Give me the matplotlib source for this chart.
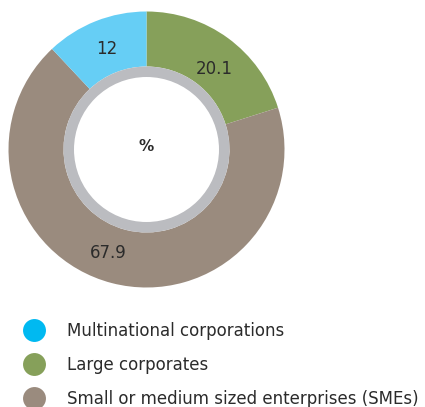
import matplotlib
matplotlib.use("Agg")
import matplotlib.pyplot as plt
from matplotlib.lines import Line2D
import numpy as np

plt.rcParams['font.family'] = ['DejaVu Sans']

categories = ["Multinational corporations", "Large corporates", "Small or medium sized enterprises (SMEs)"]
values = [12, 20.1, 67.9]
value_labels = ["12", "20.1", "67.9"]
slice_colors = ["#66CEF5", "#86A05A", "#9A8B7E"]
legend_colors = ["#00B9F1", "#86A05A", "#9A8B7E"]

W, H = 425, 407
fig = plt.figure(figsize=(W / 100, H / 100), dpi=100)
ax = fig.add_axes([0, 0, 1, 1])

cx, cy = 146.5, H - 149.5
R_out, R_in = 138, 83

# draw order clockwise from top: Large, SMEs, Multinational
order = [1, 2, 0]
wedges, texts = ax.pie([values[i] for i in order], colors=[slice_colors[i] for i in order],
                       startangle=90, counterclock=False, center=(cx, cy), radius=R_out,
                       wedgeprops=dict(width=R_out - R_in, linewidth=0))
ax.set_xlim(0, W)
ax.set_ylim(0, H)
ax.set_aspect('equal')
ax.axis('off')

# value labels at wedge mid-angles (small angular nudges to match layout)
nudge = {0: 0.0, 1: -4.0, 2: -5.5}
rad = {0: 108, 1: 105, 2: 110}
for w, i in zip(wedges, order):
    ang = np.deg2rad((w.theta1 + w.theta2) / 2 + nudge[i])
    ax.text(cx + rad[i] * np.cos(ang), cy + rad[i] * np.sin(ang), value_labels[i],
            fontsize=12, color='#2b2b2b', ha='center', va='center')

# grey inner ring
ax.add_patch(plt.Circle((cx, cy), R_in, color='#BBBCC0', lw=0))
ax.add_patch(plt.Circle((cx, cy), 72.5, color='white', lw=0))
ax.text(cx, cy + 3, "%", fontsize=11, fontweight='bold', color='#2b2b2b', ha='center', va='center')

handles = [Line2D([0], [0], marker='o', linestyle='none', markersize=16.5,
                  markerfacecolor=c, markeredgewidth=0) for c in legend_colors]
fig.legend(handles, categories, loc='upper left', bbox_to_anchor=(17 / W, 1 - 321.5 / H),
           frameon=False, fontsize=12, labelcolor='#2b2b2b', handletextpad=1.0,
           labelspacing=0.96, borderaxespad=0, borderpad=0)

fig.savefig("out.png", dpi=100)
